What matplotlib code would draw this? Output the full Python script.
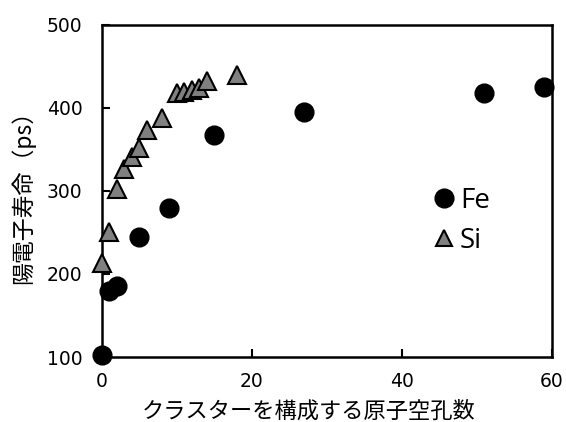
import matplotlib
matplotlib.use("Agg")
import matplotlib.pyplot as plt

plt.rcParams['font.family'] = ['DejaVu Sans', 'Noto Sans CJK JP']

# Positron lifetime vs. number of vacancies in the cluster
fe_vacancies = [0, 1, 2, 5, 9, 15, 27, 51, 59]
fe_lifetime = [103, 179, 185, 245, 279, 367, 395, 418, 425]

si_vacancies = [0, 1, 2, 3, 4, 5, 6, 8, 10, 11, 12, 13, 14, 18]
si_lifetime = [213, 250, 302, 326, 341, 352, 373, 388, 418, 419, 421, 424, 432, 440]

x_ticks = [0, 20, 40, 60]
y_ticks = [100, 200, 300, 400, 500]

fig = plt.figure(figsize=(5.66, 4.22), dpi=100)
ax = fig.add_axes([0.180, 0.154, 0.795, 0.787])

ax.plot(fe_vacancies, fe_lifetime, linestyle='none', marker='o', markersize=13.5,
        color='black', label='Fe', clip_on=False, zorder=3)
ax.plot(si_vacancies, si_lifetime, linestyle='none', marker='^', markersize=13,
        markerfacecolor='#808080', markeredgecolor='black', markeredgewidth=1.5,
        label='Si', clip_on=False, zorder=3)

ax.set_xlim(0, 60)
ax.set_ylim(100, 500)
ax.set_xticks(x_ticks)
ax.set_yticks(y_ticks)
ax.tick_params(direction='in', length=6, width=1.5, labelsize=13.5)
ax.tick_params(axis='y', pad=14)
ax.tick_params(axis='x', pad=11)
for side in ['left', 'right', 'top', 'bottom']:
    ax.spines[side].set_linewidth(1.8)

ax.set_xlabel('クラスターを構成する原子空孔数', fontsize=16,
              family=['Noto Sans CJK JP'])
ax.xaxis.set_label_coords(0.46, -0.128)
ax.set_ylabel('陽電子寿命（ps）', fontsize=16.5,
              family=['Noto Sans CJK JP'], labelpad=8)

leg = ax.legend(loc='center left', bbox_to_anchor=(0.675, 0.41), frameon=False,
                prop={'family': 'Open Sans', 'size': 20}, handletextpad=0.05,
                labelspacing=0.45, handlelength=1.0)
leg.legend_handles[0].set_markersize(13.5)
leg.legend_handles[1].set_markersize(11.5)

fig.savefig('out.png', dpi=100)
